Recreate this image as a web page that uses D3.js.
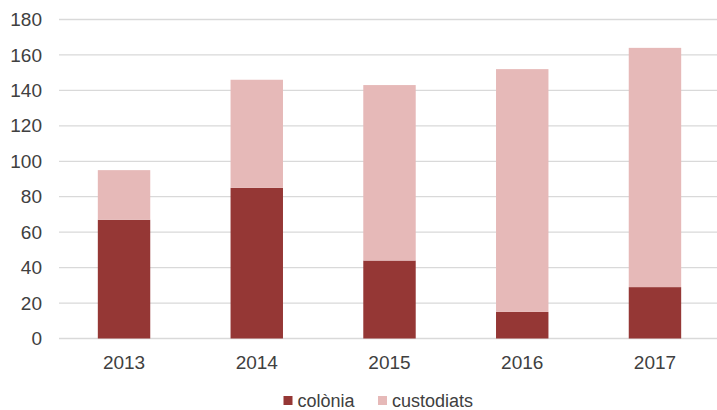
<!DOCTYPE html>
<html>
<head>
<meta charset="utf-8">
<script src="https://cdn.jsdelivr.net/npm/d3@7"></script>
<style>
  body { margin: 0; background: #fff; }
  text { font-family: "Liberation Sans", Arial, sans-serif; fill: #404040; }
</style>
</head>
<body>
<svg width="717" height="410"></svg>
<script>
var years = ["2013", "2014", "2015", "2016", "2017"];
var colonia = [67, 85, 44, 15, 29];
var custodiats = [28, 61, 99, 137, 135];
var seriesNames = ["colònia", "custodiats"];
var seriesColors = ["#953735", "#e6b9b8"];
var yTicks = [0, 20, 40, 60, 80, 100, 120, 140, 160, 180];

var svg = d3.select("svg");

var x = d3.scaleBand()
    .domain(years)
    .range([58, 721])
    .paddingInner(0.605)
    .paddingOuter(0.3);

var y = d3.scaleLinear()
    .domain([0, 180])
    .range([338.5, 19.5]);

// gridlines
svg.append("g")
  .selectAll("line")
  .data(yTicks)
  .enter()
  .append("line")
    .attr("x1", 59)
    .attr("x2", 717)
    .attr("y1", function(d) { return y(d); })
    .attr("y2", function(d) { return y(d); })
    .attr("stroke", "#d9d9d9")
    .attr("stroke-width", 1.3);

// y labels
svg.append("g")
  .selectAll("text")
  .data(yTicks)
  .enter()
  .append("text")
    .attr("x", 42)
    .attr("y", function(d) { return y(d); })
    .attr("dy", "0.35em")
    .attr("text-anchor", "end")
    .style("font-size", "19px")
    .text(function(d) { return d; });

// stacked bars
var rows = years.map(function(yr, i) {
  return { year: yr, "colònia": colonia[i], "custodiats": custodiats[i] };
});
var stack = d3.stack().keys(seriesNames)(rows);

svg.append("g")
  .selectAll("g")
  .data(stack)
  .enter()
  .append("g")
    .attr("fill", function(d, i) { return seriesColors[i]; })
  .selectAll("rect")
  .data(function(d) { return d; })
  .enter()
  .append("rect")
    .attr("x", function(d) { return x(d.data.year); })
    .attr("width", x.bandwidth())
    .attr("y", function(d) { return y(d[1]); })
    .attr("height", function(d) { return y(d[0]) - y(d[1]); });

// x labels
svg.append("g")
  .selectAll("text")
  .data(years)
  .enter()
  .append("text")
    .attr("x", function(d) { return x(d) + x.bandwidth() / 2; })
    .attr("y", 369)
    .attr("text-anchor", "middle")
    .style("font-size", "19px")
    .text(function(d) { return d; });

// legend
var legendX = [283.5, 378];
var legend = svg.append("g")
  .selectAll("g")
  .data(seriesNames)
  .enter()
  .append("g")
    .attr("transform", function(d, i) { return "translate(" + legendX[i] + ",396)"; });

legend.append("rect")
    .attr("width", 9)
    .attr("height", 9)
    .attr("fill", function(d, i) { return seriesColors[i]; });

legend.append("text")
    .attr("x", 14)
    .attr("y", 10.5)
    .style("font-size", "18px")
    .text(function(d) { return d; });
</script>
</body>
</html>
